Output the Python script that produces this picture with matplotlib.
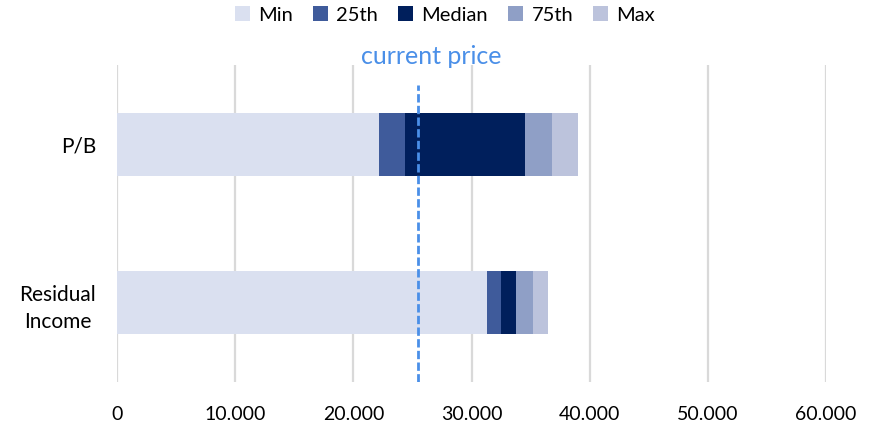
import matplotlib
matplotlib.use("Agg")
import matplotlib.pyplot as plt
import numpy as np

plt.rcParams['font.family'] = ['Lato', 'DejaVu Sans']

categories = ["Residual\nIncome", "P/B"]
series_names = ["Min", "25th", "Median", "75th", "Max"]
# cumulative bar ends per category (Residual Income, P/B)
min_vals = [31300, 22140]
p25_vals = [32520, 24380]
median_vals = [33730, 34550]
p75_vals = [35170, 36780]
max_vals = [36500, 39010]
current_price = 25450
x_ticks = [0, 10000, 20000, 30000, 40000, 50000, 60000]
x_tick_labels = ["0", "10.000", "20.000", "30.000", "40.000", "50.000", "60.000"]

colors = ["#dae0f0", "#3f5b9b", "#001f5c", "#8f9fc6", "#bcc3dc"]

fig = plt.figure(figsize=(8.78, 4.30), dpi=100)
ax = fig.add_axes([117/878, 1-382/430, (826-117)/878, (382-65)/430])

ends = np.array([min_vals, p25_vals, median_vals, p75_vals, max_vals], dtype=float)
y = np.arange(len(categories))
left = np.zeros(len(categories))
for i, name in enumerate(series_names):
    width = ends[i] - left
    ax.barh(y, width, left=left, height=0.4, color=colors[i], label=name, zorder=3)
    left = ends[i]

ax.set_xlim(0, 60000)
ax.set_ylim(-0.5, 1.5)
ax.set_xticks(x_ticks)
ax.set_xticklabels(x_tick_labels, fontsize=14)
ax.set_yticks(y)
ax.set_yticklabels(categories, fontsize=15, multialignment='center', linespacing=1.45)
ax.tick_params(length=0)
ax.tick_params(axis='y', pad=15)
ax.tick_params(axis='x', pad=17)
for tl in ax.get_yticklabels():
    if "\n" in tl.get_text():
        tl.set_y(tl.get_position()[1])
for s in ax.spines.values():
    s.set_visible(False)
ax.xaxis.grid(True, color="#d9d9d9", linewidth=1.6, zorder=0)
ax.set_axisbelow(True)

ax.axvline(current_price, ymin=0, ymax=(382-85)/(382-65), color="#4a8fe8",
           linestyle=(0, (3, 1.2)), linewidth=2, zorder=4)
ax.annotate("current price", xy=(current_price, 1.5 + 9/158.5), xytext=(14, 0),
            textcoords='offset pixels', color="#4a8fe8", annotation_clip=False,
            fontsize=18, ha='center', va='center')

leg = fig.legend(loc='center', bbox_to_anchor=(445/878, 1-15/430), ncol=5,
                 frameon=False, fontsize=14.5, handlelength=0.75, handleheight=0.75,
                 handletextpad=0.4, columnspacing=1.0)

fig.savefig("out.png", dpi=100)
